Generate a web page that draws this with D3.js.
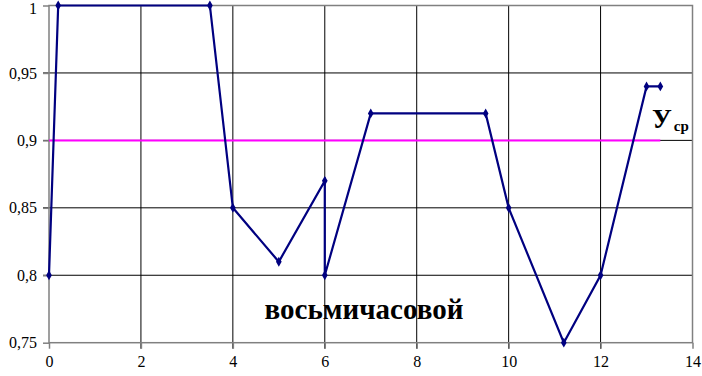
<!DOCTYPE html>
<html><head><meta charset="utf-8">
<script src="https://cdn.jsdelivr.net/npm/d3@7"></script>
<style>body{margin:0;background:#fff}svg{display:block}
text{font-family:"Liberation Serif","Times New Roman",serif !important}</style>
</head><body>
<svg id="c" width="702" height="376"></svg>
<script>
const xs = [0, 0.2, 3.5, 4, 5, 6, 6, 7, 9.5, 10, 11.2, 12, 13, 13.3];
const ys = [0.8, 1, 1, 0.85, 0.81, 0.87, 0.8, 0.92, 0.92, 0.85, 0.75, 0.8, 0.94, 0.94];
const xTicks = [0, 2, 4, 6, 8, 10, 12, 14];
const yTicks = [0.75, 0.8, 0.85, 0.9, 0.95, 1];
const avgValue = 0.9;
const avgEnd = 13.3;
const avgLabel = "У";
const avgSub = "ср";
const title = "восьмичасовой";

const svg = d3.select("#c");
const L = 49, R = 692.5, T = 5.5, B = 342.7;
const x = d3.scaleLinear().domain([0, 14]).range([L, R]);
const y = d3.scaleLinear().domain([0.75, 1]).range([B, T]);
const fmt = d => String(d).replace(".", ",");

// grid
const g = svg.append("g");
g.selectAll(".vg").data(xTicks.filter(d => d > 0 && d < 14)).enter().append("line")
  .attr("x1", d => x(d)).attr("x2", d => x(d)).attr("y1", T).attr("y2", B + 6)
  .attr("stroke", "#000").attr("stroke-width", 1);
g.selectAll(".hg").data(yTicks.filter(d => d > 0.75 && d < 1)).enter().append("line")
  .attr("x1", L - 6).attr("x2", R).attr("y1", d => y(d)).attr("y2", d => y(d))
  .attr("stroke", "#000").attr("stroke-width", 1);
// frame
svg.append("rect").attr("x", L).attr("y", T).attr("width", R - L).attr("height", B - T)
  .attr("fill", "none").attr("stroke", "#808080").attr("stroke-width", 1.5);

// axes
const ax = svg.append("g").attr("transform", `translate(0,${B})`)
  .call(d3.axisBottom(x).tickValues(xTicks).tickSize(6).tickFormat(d => d));
ax.select(".domain").remove();
ax.selectAll("line").attr("stroke", "#808080").attr("stroke-width", 1.5);
ax.selectAll("text").attr("font-size", 16).attr("fill", "#000").attr("dy", "0.95em");

const ay = svg.append("g").attr("transform", `translate(${L},0)`)
  .call(d3.axisLeft(y).tickValues(yTicks).tickSize(6).tickFormat(fmt));
ay.select(".domain").remove();
ay.selectAll("line").attr("stroke", "#808080").attr("stroke-width", 1.5);
ay.selectAll("text").attr("font-size", 16).attr("fill", "#000").attr("x", -12);
ay.selectAll(".tick").filter(d => d === 1).select("text").attr("dy", "0.5em");

// average line
svg.append("line").attr("x1", x(0)).attr("x2", x(avgEnd)).attr("y1", y(avgValue)).attr("y2", y(avgValue))
  .attr("stroke", "#ff00ff").attr("stroke-width", 2);

// data line
const pts = xs.map((d, i) => [d, ys[i]]);
svg.append("path").datum(pts)
  .attr("d", d3.line().x(d => x(d[0])).y(d => y(d[1])))
  .attr("fill", "none").attr("stroke", "#000080").attr("stroke-width", 2.2);
svg.selectAll(".m").data(pts).enter().append("path")
  .attr("transform", d => `translate(${x(d[0])},${y(d[1])})`)
  .attr("d", d3.symbol().type(d3.symbolDiamond).size(28))
  .attr("fill", "#000080");

// labels
const t = svg.append("text").attr("x", 652).attr("y", 128)
  .attr("font-weight", "bold").attr("fill", "#000");
t.append("tspan").attr("font-size", 27).text(avgLabel);
t.append("tspan").attr("font-size", 15).attr("dx", 2).attr("dy", 3).text(avgSub);

svg.append("text").attr("x", 364).attr("y", 319).attr("text-anchor", "middle")
  .attr("font-weight", "bold").attr("font-size", 29)
  .attr("fill", "#000").text(title);
</script>
</body></html>
